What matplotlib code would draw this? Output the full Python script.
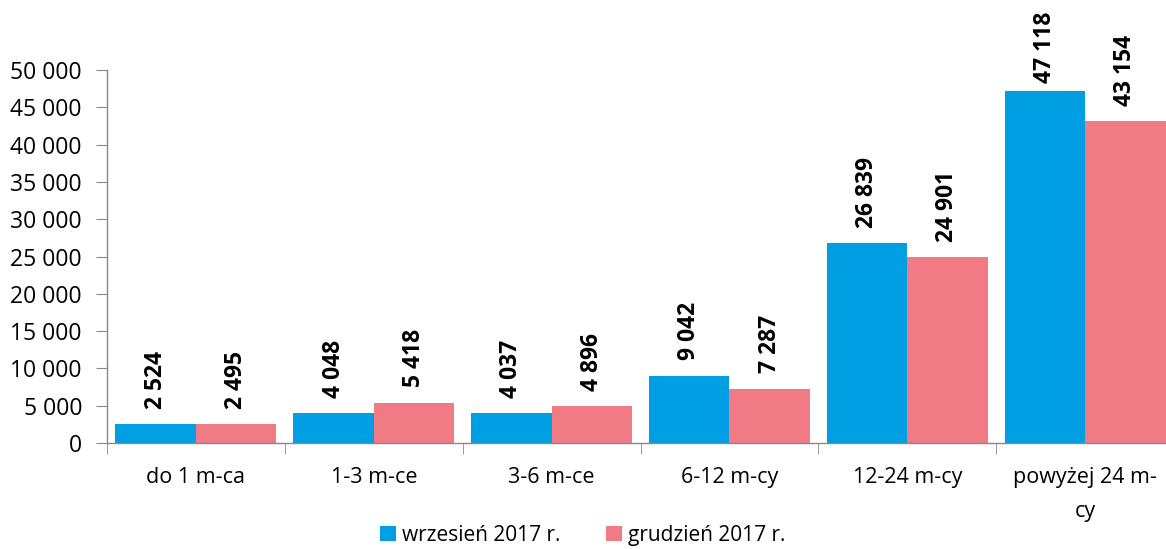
import matplotlib
matplotlib.use("Agg")
import matplotlib.pyplot as plt
import numpy as np

categories = ["do 1 m-ca", "1-3 m-ce", "3-6 m-ce", "6-12 m-cy", "12-24 m-cy", "powyżej 24 m-\ncy"]
series_names = ["wrzesień 2017 r.", "grudzień 2017 r."]
wrzesien = [2524, 4048, 4037, 9042, 26839, 47118]
grudzien = [2495, 5418, 4896, 7287, 24901, 43154]
yticks = list(range(0, 50001, 5000))

colors = ["#009FE3", "#F07B85"]

plt.rcParams['font.family'] = ['Open Sans', 'DejaVu Sans']

def fmt(v):
    return f"{v:,}".replace(",", " ")

fig = plt.figure(figsize=(11.66, 5.49), dpi=100)
ax = fig.add_axes([107/1166, 106/549, (1174-107)/1166, (443-70)/549])

x = np.arange(len(categories))
w = 0.4525
b1 = ax.bar(x - w/2, wrzesien, w, color=colors[0], label=series_names[0])
b2 = ax.bar(x + w/2, grudzien, w, color=colors[1], label=series_names[1])

for bars, vals in ((b1, wrzesien), (b2, grudzien)):
    for r, v in zip(bars, vals):
        off = 11 if v < 45000 else 6
        ax.annotate(fmt(v), (r.get_x() + r.get_width()/2, v), xytext=(0, off),
                    textcoords="offset points", rotation=90, ha="center", va="bottom",
                    fontsize=16.5, fontweight="bold", annotation_clip=False)

ax.set_xlim(-0.5, 5.5)
ax.set_ylim(0, 50000)
ax.set_yticks(yticks)
ax.set_yticklabels([fmt(v) for v in yticks], fontsize=16.5)
ax.set_xticks(x)
ax.set_xticklabels(categories, fontsize=15.5, va="top", linespacing=1.85)
ax.set_xticks(np.arange(-0.5, 6.0, 1.0), minor=True)
ax.tick_params(axis="x", which="major", length=0, pad=17)
ax.tick_params(axis="x", which="minor", length=8, color="#888888", direction="out")
ax.tick_params(axis="y", length=8, color="#888888", direction="out", pad=10)

for s in ("top", "right"):
    ax.spines[s].set_visible(False)
for s in ("left", "bottom"):
    ax.spines[s].set_color("#888888")
    ax.spines[s].set_linewidth(1)

fig.legend(handles=[b1, b2], labels=series_names, loc="lower center",
           bbox_to_anchor=(0.5, -0.028), ncol=2, frameon=False, fontsize=15,
           handlelength=0.75, handleheight=0.75, handletextpad=0.3, columnspacing=2.2)

fig.savefig("out.png", dpi=100)
